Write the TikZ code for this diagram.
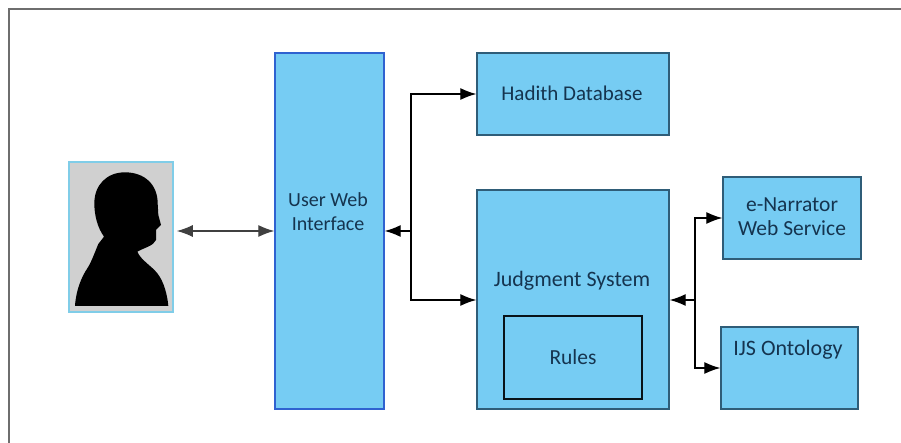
\documentclass[tikz,border=0pt]{standalone}
\usepackage{fontspec}
\setmainfont{Carlito}
\usetikzlibrary{arrows.meta,calc}
\definecolor{boxfill}{HTML}{76CCF3}
\definecolor{boxline}{HTML}{2F5D78}
\definecolor{webline}{HTML}{2F62D0}
\definecolor{txt}{HTML}{15344F}
\definecolor{frameline}{HTML}{6E6E6E}
\definecolor{userline}{HTML}{80CDE8}
\definecolor{usergrey}{HTML}{D0D0D0}
\tikzset{
  blk/.style={draw=boxline,line width=1.4pt,fill=boxfill,inner sep=0pt,text=txt,align=center},
  lbl/.style={text=txt,align=center,inner sep=0pt,font=\fontsize{21.5}{24}\selectfont},
  conn/.style={draw=black,line width=1.2pt},
  tip/.style={-{Latex[length=16pt,width=12pt]}},
  bothtip/.style={{Latex[length=16pt,width=12pt]}-{Latex[length=16pt,width=12pt]}}
}
\begin{document}
\begin{tikzpicture}[x=1pt,y=-1pt]
\useasboundingbox (0,0) rectangle (901,443);
\fill[white] (0,0) rectangle (901,443);
\coordinate (fbl) at (9,443);
\coordinate (ftl) at (9,9);
\coordinate (ftr) at (901,9);
\draw[frameline,line width=2pt] (fbl) -- (ftl) -- (ftr);
% user picture
\node (user) [draw=userline,line width=1.5pt,fill=usergrey,minimum width=104pt,minimum height=150pt,inner sep=0pt] at (121,237) {};
\begin{scope}[x=0.33333pt,y=-0.33333pt,shift={(150,420)}]
\fill[black] (162,290) .. controls (142,262) and (133,225) .. (133,190)
 .. controls (133,135) and (170,97) .. (225,97)
 .. controls (285,97) and (323,135) .. (323,190)
 -- (325,225) -- (333,255) -- (318,270) -- (318,300)
 .. controls (310,318) and (285,322) .. (262,335)
 .. controls (272,360) and (305,378) .. (322,400)
 .. controls (342,425) and (352,465) .. (355,498)
 -- (75,498)
 .. controls (78,450) and (95,410) .. (112,385)
 .. controls (125,365) and (135,335) .. (145,312)
 -- (162,290) -- cycle;
\end{scope}
% boxes
\node (web) [blk,draw=webline,minimum width=109pt,minimum height=356pt] at (329.5,231) {};
\node (webtxt) [lbl,font=\fontsize{20}{24}\selectfont] at (328,212) {User Web\\Interface};
\node (hadith) [blk,minimum width=192pt,minimum height=82pt] at (573,94) {};
\node (hadithtxt) [lbl,font=\fontsize{21}{24}\selectfont] at (572,93) {Hadith Database};
\node (judge) [blk,minimum width=192pt,minimum height=219pt] at (573,299.5) {};
\node (judgetxt) [lbl,font=\fontsize{22}{24}\selectfont] at (572,281) {Judgment System};
\node (rules) [blk,draw=black!80!boxline,line width=1.2pt,minimum width=138pt,minimum height=83pt,font=\fontsize{21.5}{24}\selectfont] at (573,357.5) {Rules};
\node (enarr) [blk,minimum width=138pt,minimum height=82pt] at (792,218) {};
\node (enarrtxt) [lbl] at (792,217) {e-Narrator\\Web Service};
\node (ijs) [blk,minimum width=137pt,minimum height=82pt] at (789.5,368) {};
\node (ijstxt) [lbl,font=\fontsize{22}{24}\selectfont] at (788,350) {IJS Ontology};
% connectors
\coordinate (jl) at (411,231);
\coordinate (jr) at (695,300);
\draw[conn,bothtip,draw=black!75] (user.east |- jl) ++(3,0) coordinate (ua) -- (web.west |- jl);
\draw[conn,tip] (jl) -- (web.east |- jl);
\draw[conn,tip] (jl) |- (hadith.west);
\draw[conn,tip] (jl) |- (judge.west |- jr);
\draw[conn,tip] (jr) -- (judge.east |- jr);
\draw[conn,tip] (jr) |- (enarr.west);
\draw[conn,tip] (jr) |- (ijs.west);
\end{tikzpicture}
\end{document}
